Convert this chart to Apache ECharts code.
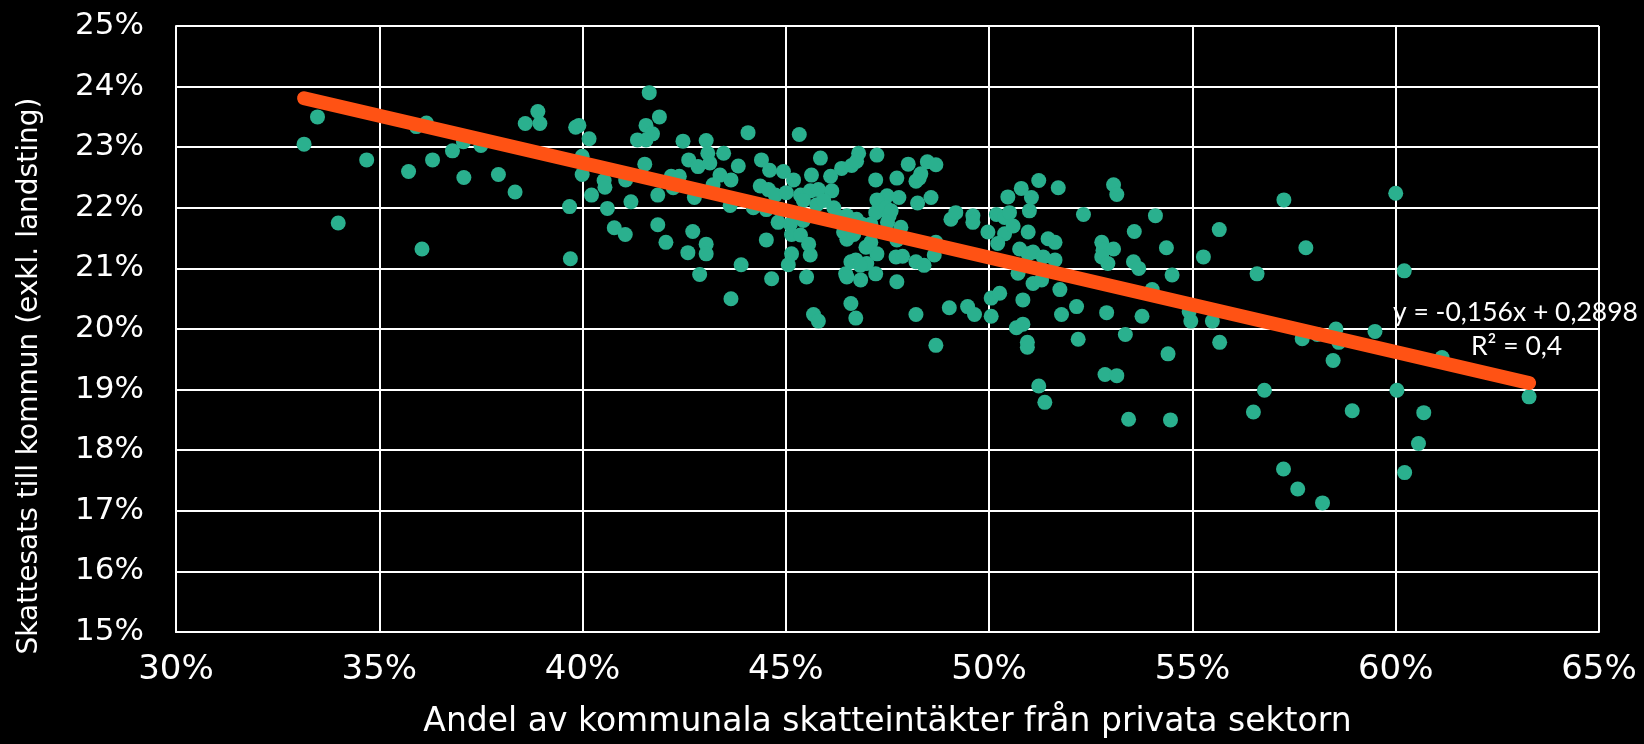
<!DOCTYPE html>
<html>
<head>
<meta charset="utf-8">
<script src="https://cdn.jsdelivr.net/npm/echarts@6/dist/echarts.min.js"></script>
<style>
html,body{margin:0;padding:0;background:#000;}
#chart{width:1644px;height:744px;}
</style>
</head>
<body>
<div id="chart"></div>
<script>
// Andel av kommunala skatteintäkter från privata sektorn (%), Skattesats (%)
const pointsLeft = [
[33.15,23.05],[33.48,23.5],[33.99,21.75],[34.69,22.79],[35.72,22.6],[36.05,21.32],[35.91,23.34],[36.16,23.4],
[36.31,22.79],[36.8,22.94],[37.07,23.09],[37.08,22.5],[37.5,23.03],[37.93,22.55],[38.34,22.26],[38.59,23.39],
[38.9,23.59],[38.95,23.39]
];
const pointsMidLeft = [
[41.64,23.9],[39.83,23.33],[39.91,23.36],[40.16,23.14],[39.99,22.85],[39.99,22.55],[39.68,22.02],[39.7,21.16],
[40.22,22.21],[40.53,22.45],[40.55,22.34],[40.61,21.99],[40.78,21.67],[41.05,21.56],[41.06,22.46],[41.19,22.1],
[41.35,23.12],[41.56,23.12],[41.56,23.36],[41.72,23.22],[41.89,23.5],[41.53,22.72],[41.85,22.21],[41.85,21.72],
[42.05,21.43],[42.18,22.52],[42.38,22.52],[42.23,22.33],[42.47,23.1],[42.61,22.79],[42.84,22.68],[42.75,22.17],
[42.71,21.61],[42.59,21.26],[42.88,20.9]
];
const pointsCenter = [
[44.07,23.24],[45.33,23.21],[43.04,23.11],[43.08,22.9],[43.47,22.9],[43.13,22.74],[43.83,22.69],[44.4,22.79],
[44.6,22.62],[44.94,22.6],[45.19,22.46],[43.38,22.54],[43.65,22.46],[43.21,22.38],[44.37,22.36],[44.57,22.3],
[44.74,22.21],[45.01,22.25],[45.36,22.21],[45.6,22.28],[45.8,22.3],[45.63,22.54],[45.85,22.82],[46.1,22.52],
[46.13,22.28],[45.43,22.12],[45.76,22.05],[45.93,22.12],[46.18,22.0],[46.37,22.65],[46.62,22.7],[46.79,22.9],
[46.74,22.77],[47.24,22.87],[47.21,22.46],[47.73,22.49],[47.49,22.2],[47.24,22.13],[47.21,21.92],[47.46,22.0],
[47.54,21.87],[47.78,22.17],[43.63,22.04],[44.2,22.0],[44.52,21.97],[44.86,21.97],[44.81,21.76],[45.11,21.73],
[45.43,21.79],[45.14,21.56],[45.36,21.55],[45.56,21.4],[45.6,21.22],[44.52,21.47],[43.04,21.4],[43.04,21.24],
[43.9,21.06],[45.14,21.24],[45.06,21.06],[45.51,20.86],[44.65,20.83],[43.65,20.5],[45.68,20.24],[45.8,20.13],
[46.6,20.42],[46.72,20.18],[46.47,20.91],[46.84,20.81],[47.21,20.91],[46.99,21.08],[46.72,21.14],[46.6,21.11],
[47.24,21.24],[47.09,21.43],[46.97,21.35],[46.42,21.6],[46.5,21.48],[46.67,21.56],[46.35,21.84],[46.5,21.87],
[46.87,21.73],[46.74,21.81],[47.59,21.95],[47.83,21.68],[47.73,21.47],[47.73,20.78],[47.71,21.19],[47.87,21.2],
[47.5,21.76],[47.09,21.73],[46.5,20.86],[46.83,21.05]
];
const pointsMidRight = [
[48.01,22.72],[48.28,22.49],[48.2,22.44],[48.32,22.56],[48.48,22.76],[48.69,22.71],[48.24,22.08],[48.57,22.17],
[48.2,21.11],[48.4,21.05],[48.65,21.22],[48.69,21.43],[49.06,21.81],[49.18,21.92],[49.6,21.87],[49.6,21.76],
[49.97,21.6],[50.18,21.89],[50.38,21.84],[50.5,21.92],[50.46,22.18],[50.79,22.32],[51.04,22.17],[51.22,22.45],
[50.99,21.95],[50.38,21.57],[50.59,21.7],[50.21,21.41],[50.96,21.6],[51.45,21.49],[51.62,21.43],[50.75,21.32],
[50.96,21.24],[51.08,21.27],[51.33,21.19],[51.62,21.14],[50.71,20.92],[51.08,20.75],[51.29,20.81],[51.7,22.33],
[52.32,21.89],[52.77,21.43],[52.8,21.3],[52.77,21.19],[52.92,21.08],[50.05,20.51],[50.26,20.59],[50.83,20.48],
[51.74,20.65],[51.78,20.24],[52.15,20.37],[49.02,20.35],[49.47,20.37],[49.64,20.24],[50.05,20.21],[48.2,20.24],
[48.69,19.73],[50.67,20.02],[50.83,20.08],[50.94,19.78],[50.94,19.7],[52.19,19.83],[51.22,19.06],[51.37,18.79]
];
const pointsRight = [
[53.06,22.38],[53.14,22.22],[57.25,22.13],[60.0,22.24],[54.09,21.87],[53.57,21.61],[55.66,21.64],[54.36,21.34],
[55.27,21.19],[57.79,21.34],[53.06,21.32],[53.55,21.11],[53.68,21.0],[54.5,20.89],[56.59,20.91],[60.21,20.96],
[54.01,20.65],[52.89,20.27],[53.76,20.21],[53.35,19.91],[54.92,20.29],[54.96,20.13],[55.49,20.13],[55.67,19.78],
[54.4,19.59],[57.7,19.84],[58.07,19.91],[58.53,20.0],[58.6,19.78],[59.49,19.96],[58.46,19.48],[61.14,19.53],
[52.85,19.25],[53.14,19.23],[56.77,18.99],[60.03,18.99],[53.43,18.51],[54.46,18.5],[56.5,18.63],[58.93,18.65],
[60.69,18.62],[60.56,18.11],[57.24,17.69],[57.59,17.36],[60.22,17.63],[63.28,18.88],[58.2,17.13]
];

// Trend line (Excel linear trendline): y = -0,156x + 0,2898, R² = 0,4
const trendSlope = -0.156;
const trendIntercept = 0.2898;
const trendR2 = 0.4;

const xTicks = { min: 30, max: 65, interval: 5 };
const yTicks = { min: 15, max: 25, interval: 1 };

const xTitle = 'Andel av kommunala skatteintäkter från privata sektorn';
const yTitle = 'Skattesats till kommun (exkl. landsting)';

const allPoints = [].concat(pointsLeft, pointsMidLeft, pointsCenter, pointsMidRight, pointsRight);
const xs = allPoints.map(p => p[0]);
const xMin = Math.min.apply(null, xs), xMax = Math.max.apply(null, xs);
const trendY = x => (trendSlope * x / 100 + trendIntercept) * 100;
const trendData = [[xMin, trendY(xMin)], [xMax, trendY(xMax)]];

const fmt = v => String(v).replace('.', ',');
const eqText = 'y = ' + fmt(trendSlope) + 'x + ' + fmt(trendIntercept);
const r2Text = 'R² = ' + fmt(trendR2);

const chart = echarts.init(document.getElementById('chart'), null, {renderer: 'canvas'});
const FONT = '"DejaVu Sans", sans-serif';
chart.setOption({
  backgroundColor: '#000000',
  animation: false,
  grid: { left: 176, right: 45, top: 26, bottom: 79, containLabel: false },
  xAxis: {
    type: 'value', min: xTicks.min, max: xTicks.max, interval: xTicks.interval,
    axisLine: { show: true, lineStyle: { color: '#ffffff', width: 2 } },
    axisTick: { show: false },
    splitLine: { show: true, lineStyle: { color: '#ffffff', width: 2 } },
    axisLabel: { color: '#ffffff', fontSize: 34, fontFamily: FONT, margin: 21, formatter: '{value}%' },
    name: xTitle, nameLocation: 'middle', nameGap: 74,
    nameTextStyle: { color: '#ffffff', fontSize: 33, fontFamily: FONT }
  },
  yAxis: {
    type: 'value', min: yTicks.min, max: yTicks.max, interval: yTicks.interval,
    axisLine: { show: true, lineStyle: { color: '#ffffff', width: 2 } },
    axisTick: { show: false },
    splitLine: { show: true, lineStyle: { color: '#ffffff', width: 2 } },
    axisLabel: { color: '#ffffff', fontSize: 31, fontFamily: FONT, margin: 32, formatter: '{value}%' }
  },
  series: [
    {
      type: 'scatter', data: allPoints, symbol: 'circle', symbolSize: 15,
      itemStyle: { color: '#2AB08E', opacity: 1 }, z: 2
    },
    {
      type: 'line', data: trendData, symbol: 'none', z: 3,
      lineStyle: { color: '#FF5214', width: 14, cap: 'round' }
    }
  ],
  graphic: [
    { type: 'text', x: 30, y: 376, rotation: Math.PI / 2, z: 10,
      style: { text: yTitle, fill: '#ffffff', font: '28px "DejaVu Sans", sans-serif',
               textAlign: 'center', textVerticalAlign: 'middle' } },
    { type: 'text', left: 1393, top: 299, z: 10,
      style: { text: eqText, fill: '#ffffff', font: '26.5px Lato, sans-serif' } },
    { type: 'text', left: 1471, top: 333, z: 10,
      style: { text: r2Text, fill: '#ffffff', font: '26.5px Lato, sans-serif' } }
  ]
});
</script>
</body>
</html>
